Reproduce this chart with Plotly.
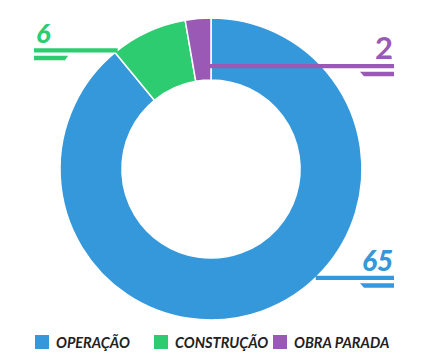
import math
import plotly.graph_objects as go

# ---- data ----
labels = ["OPERAÇÃO", "CONSTRUÇÃO", "OBRA PARADA"]
values = [65, 6, 2]
colors = ["#3498db", "#2ecc71", "#9b59b6"]

# ---- layout constants (pixels) ----
W, H = 422, 361
CX, CY, R = 211, 169, 151
HOLE = 0.59
FONT = "Lato"


def px(x):
    return x / W


def py(y):
    return 1 - y / H


fig = go.Figure()
fig.add_trace(go.Pie(
    labels=labels, values=values, sort=False, direction="clockwise", rotation=0,
    hole=HOLE, textinfo="none", showlegend=False,
    marker=dict(colors=colors, line=dict(color="white", width=1.5)),
    domain=dict(x=[px(CX - R), px(CX + R)], y=[py(CY + R), py(CY - R)]),
))

# slice angles (clockwise from 12 o'clock)
total = sum(values)
mids = []
acc = 0
for v in values:
    mids.append((acc + v / 2) / total * 2 * math.pi)
    acc += v

# label layout per slice: side, y of leader line, anchor mode, text size, style, weight
label_layout = [
    dict(side="right", y=277.8, anchor="edge", size=28, style="italic", weight=900),
    dict(side="left", y=50.3, anchor="edge", size=27, style="italic", weight=900),
    dict(side="right", y=66.2, anchor="mid", size=31, style="normal", weight="bold"),
]
LEFT_X, RIGHT_X = 34, 394
LW = 4.2
shapes = []
annotations = []
for val, col, mid, lay in zip(values, colors, mids, label_layout):
    y = lay["y"]
    dy = y - CY
    if lay["anchor"] == "edge":
        dx = math.sqrt(max(R * R - dy * dy, 0))
        ax = CX + dx if lay["side"] == "right" else CX - dx
    else:
        ax = CX + dy * -math.tan(mid)
    if lay["side"] == "right":
        x0, x1 = ax, RIGHT_X
        u = [(RIGHT_X - 34, y + 5.5), (RIGHT_X, y + 5.5), (RIGHT_X, y + 10), (RIGHT_X - 30, y + 10)]
        tx, xa = RIGHT_X + 1, "right"
    else:
        x0, x1 = LEFT_X, ax
        u = [(LEFT_X, y + 5.5), (LEFT_X + 34, y + 5.5), (LEFT_X + 31, y + 10), (LEFT_X, y + 10)]
        tx, xa = LEFT_X, "left"
    shapes.append(dict(type="line", xref="paper", yref="paper",
                       x0=px(x0), x1=px(x1), y0=py(y), y1=py(y),
                       line=dict(color=col, width=LW), layer="above"))
    path = "M" + " L".join(f"{px(a):.5f},{py(b):.5f}" for a, b in u) + " Z"
    shapes.append(dict(type="path", xref="paper", yref="paper", path=path,
                       fillcolor=col, line=dict(width=0), layer="above"))
    cap = 0.7 * lay["size"]
    annotations.append(dict(
        text=str(val), xref="paper", yref="paper", x=px(tx), y=py(y - 8.5 - cap / 2),
        xanchor=xa, yanchor="middle", showarrow=False,
        font=dict(family=FONT, size=lay["size"], color=col, style=lay["style"], weight=lay["weight"]),
    ))

# legend drawn at bottom
LEG_X0, LEG_STEP, LEG_Y, SQ = 35, 119, 342, 14
for i, (lab, col) in enumerate(zip(labels, colors)):
    x = LEG_X0 + i * LEG_STEP
    shapes.append(dict(type="rect", xref="paper", yref="paper",
                       x0=px(x), x1=px(x + SQ), y0=py(LEG_Y - SQ / 2), y1=py(LEG_Y + SQ / 2),
                       fillcolor=col, line=dict(width=0)))
    annotations.append(dict(
        text=lab, xref="paper", yref="paper", x=px(x + 19), y=py(LEG_Y),
        xanchor="left", yanchor="middle", showarrow=False,
        font=dict(family=FONT, size=14.5, color="#222222", style="italic", weight="bold"),
    ))

fig.update_layout(
    width=W, height=H, margin=dict(l=0, r=0, t=0, b=0),
    paper_bgcolor="white", plot_bgcolor="white",
    shapes=shapes, annotations=annotations, showlegend=False,
)
fig.write_html("out.html")
